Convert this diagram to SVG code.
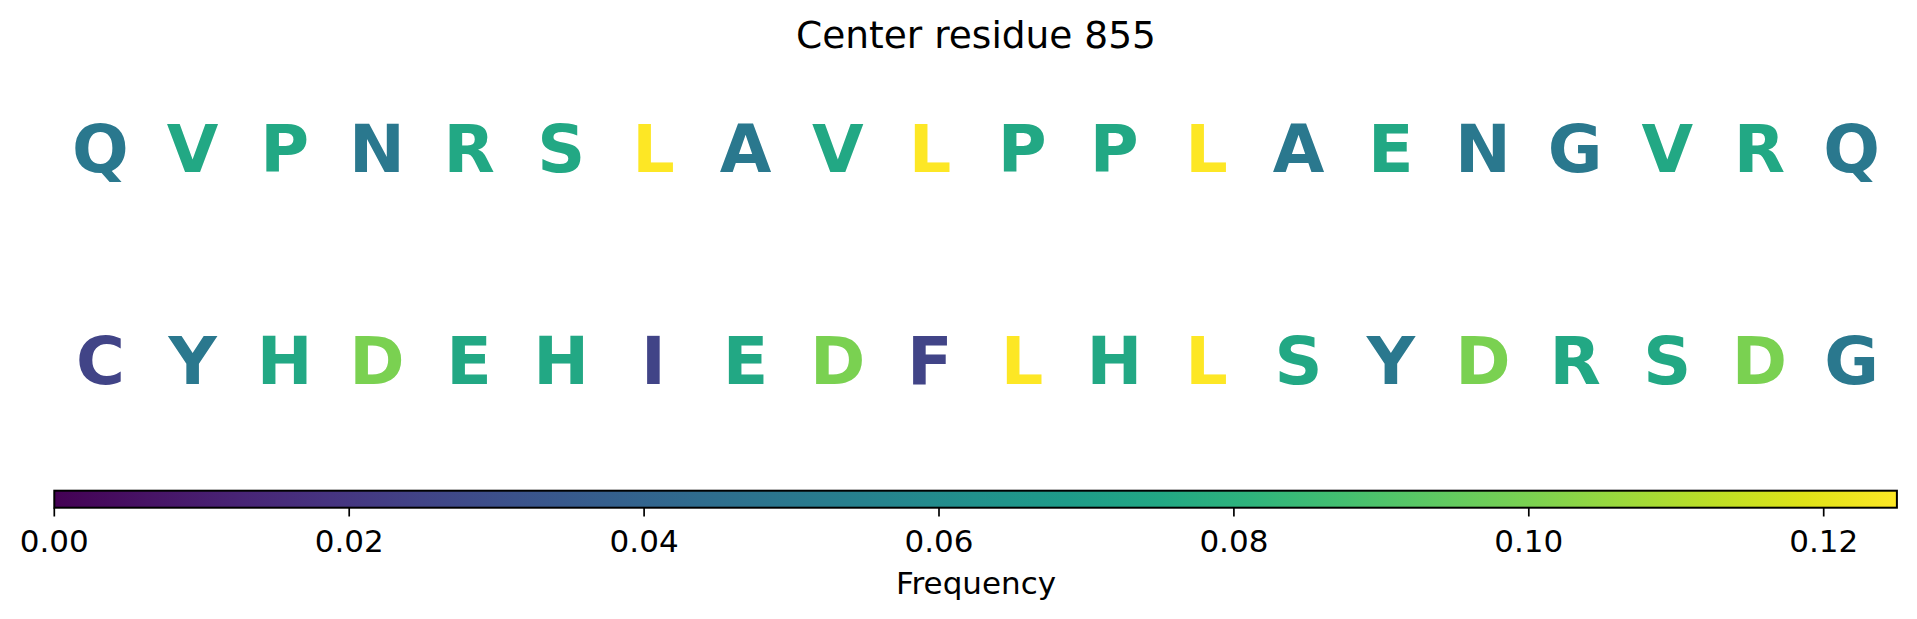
<svg xmlns="http://www.w3.org/2000/svg" width="1917" height="619" viewBox="0 0 1917 619">
<style>
text{font-family:"DejaVu Sans","Liberation Sans",sans-serif;}
.res{font-weight:bold;font-size:66.7px;text-anchor:middle;}
.c2{fill:#414487}.c4{fill:#2a788e}.c6{fill:#22a884}.c8{fill:#7ad151}.c10{fill:#fde725}
.tick{stroke:#000;stroke-width:1.7}
.tl{font-size:31px;text-anchor:middle;fill:#000}
</style>
<defs>
<linearGradient id="viridis" x1="0" y1="0" x2="1" y2="0">
<stop offset="0" stop-color="#440154"/>
<stop offset="0.05" stop-color="#471365"/>
<stop offset="0.1" stop-color="#482475"/>
<stop offset="0.15" stop-color="#463480"/>
<stop offset="0.2" stop-color="#414487"/>
<stop offset="0.25" stop-color="#3b528b"/>
<stop offset="0.3" stop-color="#355f8d"/>
<stop offset="0.35" stop-color="#2f6c8e"/>
<stop offset="0.4" stop-color="#2a788e"/>
<stop offset="0.45" stop-color="#25848e"/>
<stop offset="0.5" stop-color="#21918c"/>
<stop offset="0.55" stop-color="#1e9c89"/>
<stop offset="0.6" stop-color="#22a884"/>
<stop offset="0.65" stop-color="#2fb47c"/>
<stop offset="0.7" stop-color="#44bf70"/>
<stop offset="0.75" stop-color="#5ec962"/>
<stop offset="0.8" stop-color="#7ad151"/>
<stop offset="0.85" stop-color="#9bd93c"/>
<stop offset="0.9" stop-color="#bddf26"/>
<stop offset="0.95" stop-color="#dfe318"/>
<stop offset="1" stop-color="#fde725"/>
</linearGradient>
</defs>
<rect width="1917" height="619" fill="#fff"/>
<text id="title" x="976" y="48" font-size="37.5" text-anchor="middle" fill="#000">Center residue 855</text>
<g id="row1">
<g id="r1-0"><text class="res c4" x="100.4" y="171.5">Q</text></g>
<g id="r1-1"><text class="res c6" x="192.6" y="171.5">V</text></g>
<g id="r1-2"><text class="res c6" x="284.7" y="171.5">P</text></g>
<g id="r1-3"><text class="res c4" x="376.9" y="171.5">N</text></g>
<g id="r1-4"><text class="res c6" x="469.1" y="171.5">R</text></g>
<g id="r1-5"><text class="res c6" x="561.2" y="171.5">S</text></g>
<g id="r1-6"><text class="res c10" x="653.4" y="171.5">L</text></g>
<g id="r1-7"><text class="res c4" x="745.6" y="171.5">A</text></g>
<g id="r1-8"><text class="res c6" x="837.8" y="171.5">V</text></g>
<g id="r1-9"><text class="res c10" x="929.9" y="171.5">L</text></g>
<g id="r1-10"><text class="res c6" x="1022.1" y="171.5">P</text></g>
<g id="r1-11"><text class="res c6" x="1114.3" y="171.5">P</text></g>
<g id="r1-12"><text class="res c10" x="1206.4" y="171.5">L</text></g>
<g id="r1-13"><text class="res c4" x="1298.6" y="171.5">A</text></g>
<g id="r1-14"><text class="res c6" x="1390.8" y="171.5">E</text></g>
<g id="r1-15"><text class="res c4" x="1482.9" y="171.5">N</text></g>
<g id="r1-16"><text class="res c4" x="1575.1" y="171.5">G</text></g>
<g id="r1-17"><text class="res c6" x="1667.3" y="171.5">V</text></g>
<g id="r1-18"><text class="res c6" x="1759.4" y="171.5">R</text></g>
<g id="r1-19"><text class="res c4" x="1851.6" y="171.5">Q</text></g>
</g>
<g id="row2">
<g id="r2-0"><text class="res c2" x="100.4" y="384">C</text></g>
<g id="r2-1"><text class="res c4" x="192.6" y="384">Y</text></g>
<g id="r2-2"><text class="res c6" x="284.7" y="384">H</text></g>
<g id="r2-3"><text class="res c8" x="376.9" y="384">D</text></g>
<g id="r2-4"><text class="res c6" x="469.1" y="384">E</text></g>
<g id="r2-5"><text class="res c6" x="561.2" y="384">H</text></g>
<g id="r2-6"><text class="res c2" x="653.4" y="384">I</text></g>
<g id="r2-7"><text class="res c6" x="745.6" y="384">E</text></g>
<g id="r2-8"><text class="res c8" x="837.8" y="384">D</text></g>
<g id="r2-9"><text class="res c2" x="929.9" y="384">F</text></g>
<g id="r2-10"><text class="res c10" x="1022.1" y="384">L</text></g>
<g id="r2-11"><text class="res c6" x="1114.3" y="384">H</text></g>
<g id="r2-12"><text class="res c10" x="1206.4" y="384">L</text></g>
<g id="r2-13"><text class="res c6" x="1298.6" y="384">S</text></g>
<g id="r2-14"><text class="res c4" x="1390.8" y="384">Y</text></g>
<g id="r2-15"><text class="res c8" x="1482.9" y="384">D</text></g>
<g id="r2-16"><text class="res c6" x="1575.1" y="384">R</text></g>
<g id="r2-17"><text class="res c6" x="1667.3" y="384">S</text></g>
<g id="r2-18"><text class="res c8" x="1759.4" y="384">D</text></g>
<g id="r2-19"><text class="res c4" x="1851.6" y="384">G</text></g>
</g>
<g id="colorbar">
<rect x="54.3" y="490.7" width="1842.6" height="17" fill="url(#viridis)" stroke="#000" stroke-width="2"/>
<g id="ticks">
<line class="tick" x1="54.3" y1="507.7" x2="54.3" y2="516.5"/>
<line class="tick" x1="349.2" y1="507.7" x2="349.2" y2="516.5"/>
<line class="tick" x1="644.1" y1="507.7" x2="644.1" y2="516.5"/>
<line class="tick" x1="939" y1="507.7" x2="939" y2="516.5"/>
<line class="tick" x1="1233.9" y1="507.7" x2="1233.9" y2="516.5"/>
<line class="tick" x1="1528.8" y1="507.7" x2="1528.8" y2="516.5"/>
<line class="tick" x1="1823.7" y1="507.7" x2="1823.7" y2="516.5"/>
</g>
<text class="tl" x="54.3" y="551.7">0.00</text>
<text class="tl" x="349.2" y="551.7">0.02</text>
<text class="tl" x="644.1" y="551.7">0.04</text>
<text class="tl" x="939" y="551.7">0.06</text>
<text class="tl" x="1233.9" y="551.7">0.08</text>
<text class="tl" x="1528.8" y="551.7">0.10</text>
<text class="tl" x="1823.7" y="551.7">0.12</text>
<text class="tl" x="976" y="594">Frequency</text>
</g>
</svg>
